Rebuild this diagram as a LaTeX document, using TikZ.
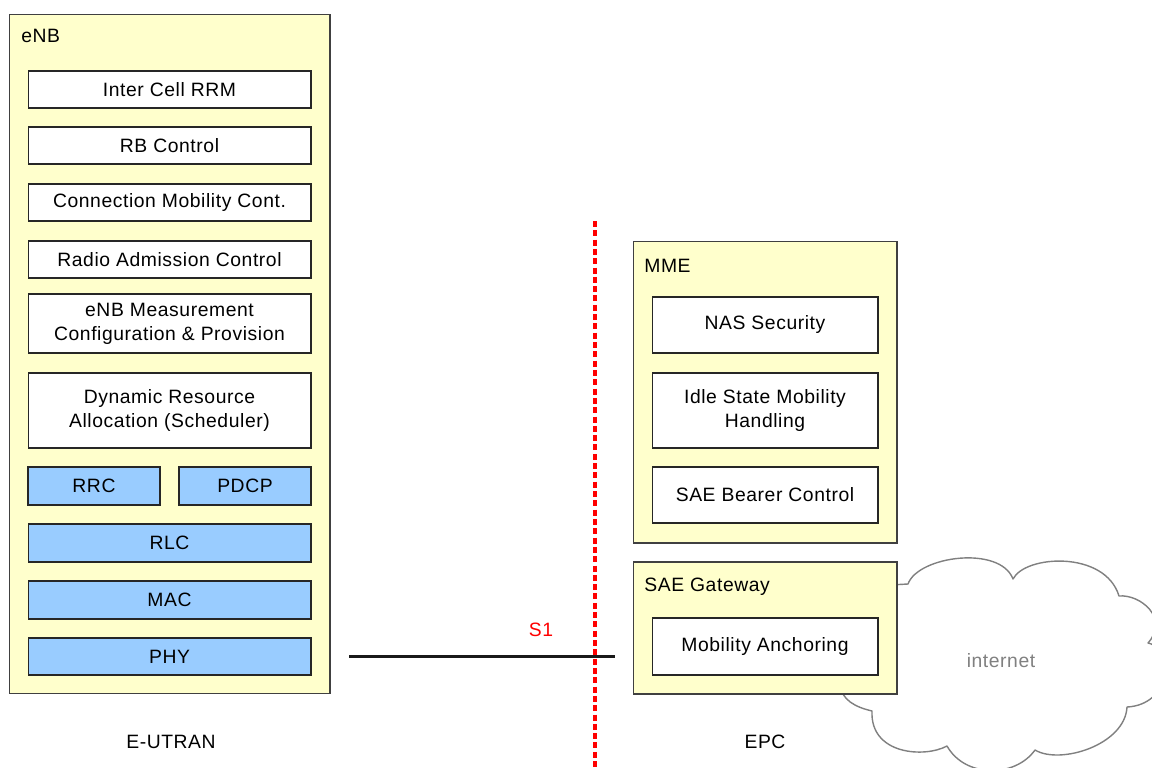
\documentclass[tikz,border=0pt]{standalone}
\usepackage{fontspec}
\setmainfont[LetterSpace=3]{Liberation Sans}
\definecolor{boxyellow}{HTML}{FFFFCC}
\definecolor{layerblue}{HTML}{99CCFF}
\definecolor{cloudgray}{HTML}{808080}
\definecolor{sred}{HTML}{FF0000}
\begin{document}
\begin{tikzpicture}[x=0.02cm,y=-0.02cm,
  every node/.style={font=\fontsize{11}{13.6}\selectfont},
  outer/.style={draw=black!75, fill=boxyellow, line width=0.6pt, inner sep=0pt},
  blk/.style={draw=black!85, fill=white, line width=0.6pt, inner sep=0pt, align=center, minimum width=5.66cm, minimum height=0.74cm},
  epcblk/.style={blk, minimum width=4.52cm, minimum height=1.12cm},
  layer/.style={blk, fill=layerblue},
  title/.style={anchor=base west, inner sep=0pt},
  bottomlbl/.style={anchor=base, inner sep=0pt}
]
\useasboundingbox (0,0) rectangle (1152,767);
% cloud (behind SAE gateway)
\draw[cloudgray, fill=white, line width=0.8pt, line join=round]
  (890,585) -- (908,584)
  .. controls (918,556) and (1000,545) .. (1013,579)
  .. controls (1025,555) and (1105,550) .. (1119,596)
  .. controls (1140,594) and (1170,618) .. (1148,643)
  .. controls (1178,650) and (1170,705) .. (1127,707)
  .. controls (1125,745) and (1060,765) .. (1035,750)
  .. controls (1015,778) and (965,778) .. (947,746)
  .. controls (925,758) and (870,755) .. (872,711)
  .. controls (855,707) and (842,700) .. (840,685)
  -- (880,600) -- cycle;
\node[text=cloudgray] (inet) at (1001,661) {internet};

% eNB
\node[outer, minimum width=6.42cm, minimum height=13.6cm] (enb) at (169.5,354) {};
\node[title] (enbl) at (21,43) {eNB};
\node[blk] (icr) at (169.5,89.5) {Inter Cell RRM};
\node[blk] (rbc) at (169.5,145.5) {RB Control};
\node[blk] (cmc) at (169.5,202.5) {Connection Mobility Cont.};
\node[blk] (rac) at (169.5,259.5) {Radio Admission Control};
\node[blk, minimum height=1.18cm] (meas) at (169.5,323.5) {eNB Measurement\\Configuration \& Provision};
\node[blk, minimum height=1.5cm] (dra) at (169.5,410.5) {Dynamic Resource\\Allocation (Scheduler)};
\node[layer, minimum width=2.64cm, minimum height=0.76cm] (rrc) at (94,486) {RRC};
\node[layer, minimum width=2.64cm, minimum height=0.76cm] (pdcp) at (245,486) {PDCP};
\node[layer, minimum height=0.76cm] (rlc) at (169.5,543) {RLC};
\node[layer, minimum height=0.76cm] (mac) at (169.5,600) {MAC};
\node[layer] (phy) at (169.5,656.5) {PHY};

% MME
\node[outer, minimum width=5.28cm, minimum height=6.04cm] (mme) at (765,392) {};
\node[title] (mmel) at (644,272) {MME};
\node[epcblk] (nas) at (765,325) {NAS Security};
\node[epcblk, minimum height=1.5cm] (idle) at (765,410.5) {Idle State Mobility\\Handling};
\node[epcblk] (sbc) at (765,495) {SAE Bearer Control};

% SAE Gateway
\node[outer, minimum width=5.28cm, minimum height=2.64cm] (sgw) at (765,628) {};
\node[title] (sgwl) at (644,591) {SAE Gateway};
\node[epcblk, minimum height=1.14cm] (mob) at (765,646.5) {Mobility Anchoring};

% S1 interface
\coordinate (s1a) at (349,656);
\coordinate (s1b) at (615,656);
\draw[line width=1.7pt, black!90] (s1a) -- (s1b);
\coordinate (da) at (595,221);
\coordinate (db) at (595,767);
\draw[sred, line width=1.8pt, dash pattern=on 3.4pt off 1.9pt] (da) -- (db);
\node[text=sred, anchor=base, inner sep=0pt] (s1) at (541,636) {S1};

% bottom labels
\node[bottomlbl] (eutran) at (171,748) {E-UTRAN};
\node[bottomlbl] (epc) at (765,748) {EPC};
\end{tikzpicture}
\end{document}
